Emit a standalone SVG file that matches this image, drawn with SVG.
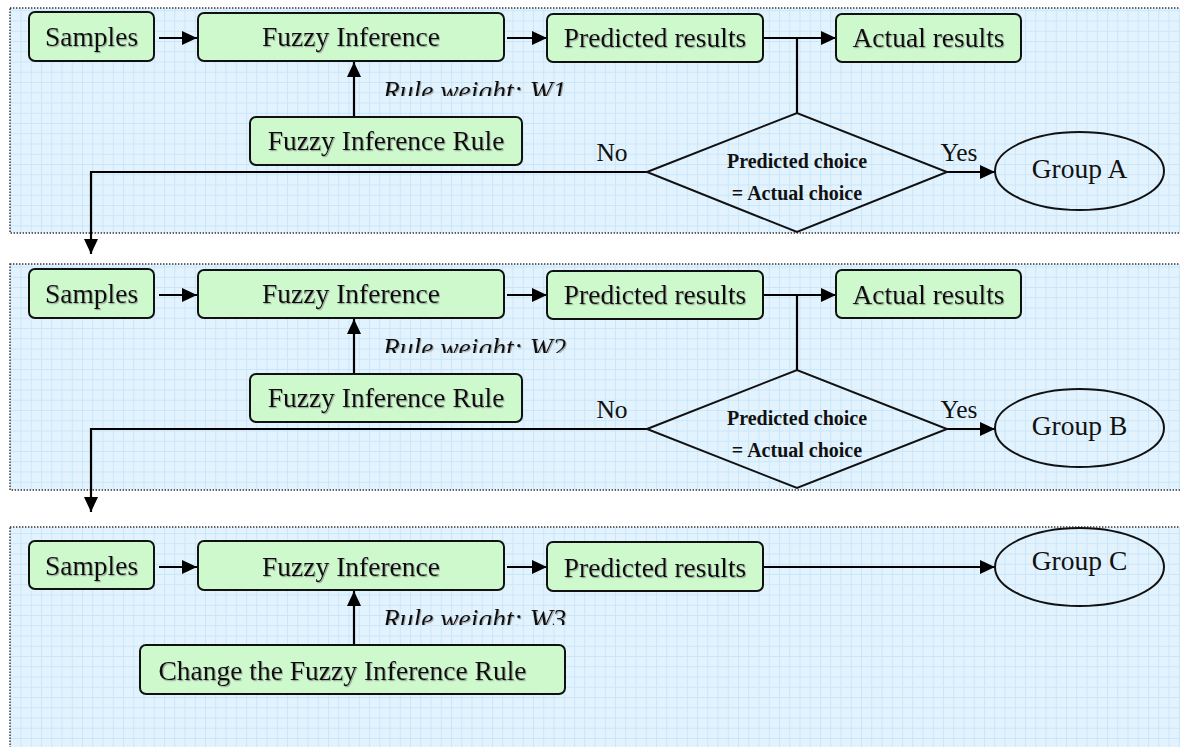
<svg xmlns="http://www.w3.org/2000/svg" width="1180" height="747" viewBox="0 0 1180 747">
<defs>
<pattern id="grid" x="0" y="0" width="10.25" height="10.25" patternUnits="userSpaceOnUse">
<rect width="10.25" height="10.25" fill="#e3f3fe"/>
<path d="M0.5,0 V10.25 M0,0.5 H10.25" stroke="#c9e6fa" stroke-width="1" fill="none"/>
</pattern>
<marker id="arr" markerUnits="userSpaceOnUse" markerWidth="16" markerHeight="15" refX="15" refY="7" orient="auto">
<path d="M0,0 L15,7 L0,14 z" fill="#000"/>
</marker>
<filter id="sh" x="-5%" y="-20%" width="110%" height="150%">
<feDropShadow dx="1" dy="1.2" stdDeviation="0.6" flood-color="#888" flood-opacity="0.7"/>
</filter>
<clipPath id="c1"><rect x="370" y="70" width="260" height="26"/></clipPath>
<clipPath id="c2"><rect x="370" y="327" width="260" height="26"/></clipPath>
<clipPath id="c3"><rect x="370" y="599" width="260" height="26"/></clipPath>
</defs>
<style>
.panel{fill:url(#grid);stroke:#333;stroke-width:1.4;stroke-dasharray:1.4 1.6}
.box{fill:#cdf9cd;stroke:#111;stroke-width:2}
.lbl{font-family:"Liberation Serif",serif;font-size:27.5px;fill:#111;text-anchor:middle}
.sh{filter:url(#sh)}
.it{font-family:"Liberation Serif",serif;font-size:27.5px;font-style:italic;fill:#111}
.dtxt{font-family:"Liberation Serif",serif;font-size:20px;font-weight:bold;fill:#111;text-anchor:middle}
.yn{font-family:"Liberation Serif",serif;font-size:25.5px;fill:#111;text-anchor:middle}
.shape{fill:none;stroke:#111;stroke-width:2}
.edge{fill:none;stroke:#000;stroke-width:2.2}
.ea{marker-end:url(#arr)}
</style>

<g id="panels">
<rect class="panel" x="10" y="8" width="1180" height="225"/>
<rect class="panel" x="10" y="264" width="1180" height="226"/>
<rect class="panel" x="10" y="527" width="1180" height="240"/>
</g>

<g id="connectors">
<path class="edge ea" d="M159,38 H197"/>
<path class="edge ea" d="M507,38 H547"/>
<path class="edge ea" d="M763,38 H836"/>
<path class="edge" d="M797,38 V113"/>
<path class="edge ea" d="M354,117 V62"/>
<path class="edge ea" d="M647,172 H91 V254"/>
<path class="edge ea" d="M947,172 H995"/>

<path class="edge ea" d="M159,295 H197"/>
<path class="edge ea" d="M507,295 H547"/>
<path class="edge ea" d="M763,295 H836"/>
<path class="edge" d="M797,295 V370"/>
<path class="edge ea" d="M354,374 V319"/>
<path class="edge ea" d="M647,429 H91 V512"/>
<path class="edge ea" d="M947,429 H995"/>

<path class="edge ea" d="M159,567 H197"/>
<path class="edge ea" d="M507,567 H547"/>
<path class="edge ea" d="M763,567 H995"/>
<path class="edge ea" d="M354,645 V591"/>
</g>

<g id="p1-samples"><rect class="box" x="29" y="12" width="125" height="49" rx="6"/><text class="lbl sh" x="91.5" y="46">Samples</text></g>
<g id="p1-fuzzy"><rect class="box" x="198" y="13" width="306" height="48" rx="6"/><text class="lbl sh" x="351" y="46">Fuzzy Inference</text></g>
<g id="p1-predicted"><rect class="box" x="547" y="14" width="216" height="48" rx="6"/><text class="lbl sh" x="655" y="47">Predicted results</text></g>
<g id="p1-actual"><rect class="box" x="836" y="14" width="185" height="48" rx="6"/><text class="lbl sh" x="928.5" y="47">Actual results</text></g>
<g id="p1-rule"><rect class="box" x="250" y="117" width="272" height="48" rx="6"/><text class="lbl sh" x="386" y="150">Fuzzy Inference Rule</text></g>
<g id="p1-weight"><text class="it sh" x="383" y="100" clip-path="url(#c1)">Rule weight: W1</text></g>
<g id="p1-decision"><path class="shape" d="M647,172 L797,113 L947,172 L797,232 Z"/><text class="dtxt" x="797" y="168">Predicted choice</text><text class="dtxt" x="797" y="200">= Actual choice</text></g>
<g id="p1-labels"><text class="yn" x="612" y="161">No</text><text class="yn" x="959" y="161">Yes</text></g>
<g id="p1-groupA"><ellipse class="shape" cx="1079.5" cy="171" rx="84.5" ry="39"/><text class="lbl" x="1079.5" y="178">Group A</text></g>

<g id="p2-samples"><rect class="box" x="29" y="269" width="125" height="49" rx="6"/><text class="lbl sh" x="91.5" y="303">Samples</text></g>
<g id="p2-fuzzy"><rect class="box" x="198" y="270" width="306" height="48" rx="6"/><text class="lbl sh" x="351" y="303">Fuzzy Inference</text></g>
<g id="p2-predicted"><rect class="box" x="547" y="271" width="216" height="48" rx="6"/><text class="lbl sh" x="655" y="304">Predicted results</text></g>
<g id="p2-actual"><rect class="box" x="836" y="270" width="185" height="48" rx="6"/><text class="lbl sh" x="928.5" y="304">Actual results</text></g>
<g id="p2-rule"><rect class="box" x="250" y="374" width="272" height="48" rx="6"/><text class="lbl sh" x="386" y="407">Fuzzy Inference Rule</text></g>
<g id="p2-weight"><text class="it sh" x="383" y="357" clip-path="url(#c2)">Rule weight: W2</text></g>
<g id="p2-decision"><path class="shape" d="M647,429 L797,370 L947,429 L797,488 Z"/><text class="dtxt" x="797" y="425">Predicted choice</text><text class="dtxt" x="797" y="457">= Actual choice</text></g>
<g id="p2-labels"><text class="yn" x="612" y="418">No</text><text class="yn" x="959" y="418">Yes</text></g>
<g id="p2-groupB"><ellipse class="shape" cx="1079.5" cy="428" rx="84.5" ry="39"/><text class="lbl" x="1079.5" y="435">Group B</text></g>

<g id="p3-samples"><rect class="box" x="29" y="541" width="125" height="48" rx="6"/><text class="lbl sh" x="91.5" y="575">Samples</text></g>
<g id="p3-fuzzy"><rect class="box" x="198" y="541" width="306" height="49" rx="6"/><text class="lbl sh" x="351" y="576">Fuzzy Inference</text></g>
<g id="p3-predicted"><rect class="box" x="547" y="542" width="216" height="49" rx="6"/><text class="lbl sh" x="655" y="577">Predicted results</text></g>
<g id="p3-rule"><rect class="box" x="140" y="645" width="425" height="49" rx="6"/><text class="lbl sh" x="342.5" y="680">Change the Fuzzy Inference Rule</text></g>
<g id="p3-weight"><text class="it sh" x="383" y="628" clip-path="url(#c3)">Rule weight: W3</text></g>
<g id="p3-groupC"><ellipse class="shape" cx="1079.5" cy="567" rx="84.5" ry="39"/><text class="lbl" x="1079.5" y="570">Group C</text></g>
</svg>
